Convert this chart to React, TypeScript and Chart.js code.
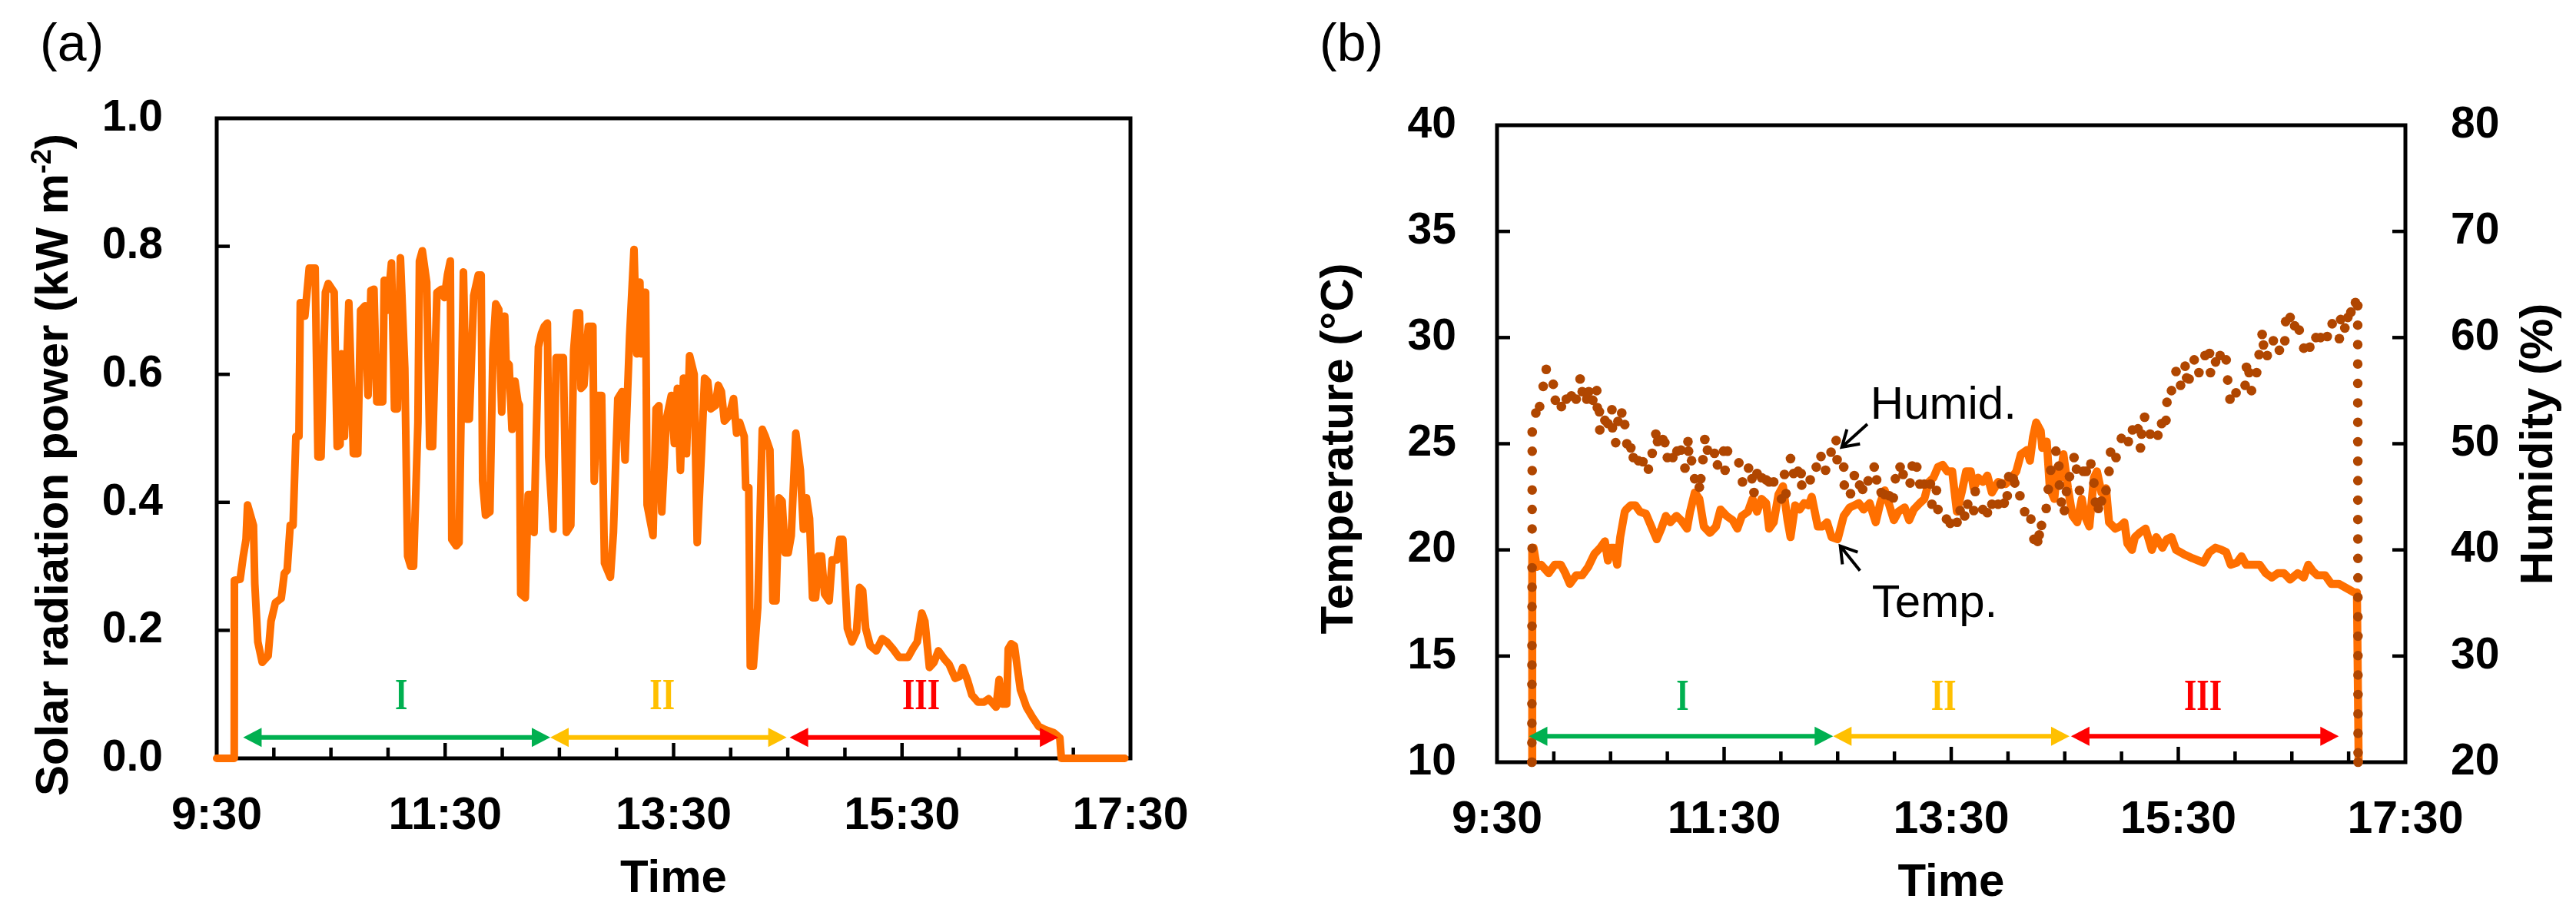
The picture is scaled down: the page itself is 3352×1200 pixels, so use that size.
import React, { useEffect, useRef } from 'react';
import { Chart, registerables } from 'chart.js';

Chart.register(...registerables);

const SANS = '"Liberation Sans", Arial, Helvetica, sans-serif';
const SERIF = '"Liberation Serif", "Times New Roman", Times, serif';

const ORANGE = '#FF6F00';
const BROWN = '#B04600';
const GREEN = '#00B050';
const YELLOW = '#FFC000';
const RED = '#FF0000';

// ---------- time axis (minutes after 9:30) ----------
const timeTickValues = [0, 120, 240, 360, 480];
const timeTickLabels = ['9:30', '11:30', '13:30', '15:30', '17:30'];

// ---------- panel (a): solar radiation power (kW m-2) ----------
const radTime = [
  0, 9.2, 9.3, 12.3, 13.9, 15.4, 16.2, 19.3, 20.0, 21.6,
  23.9, 27.0, 28.5, 30.8, 33.9, 35.5, 37.0, 38.6, 40.1, 41.6,
  43.2, 43.9, 45.5, 46.3, 48.6, 51.7, 53.2, 54.8, 57.1, 58.6,
  61.7, 63.3, 64.8, 65.6, 67.1, 69.4, 71.8, 74.1, 75.6, 77.9,
  79.5, 81.0, 82.6, 84.1, 87.2, 88.0, 89.5, 91.8, 93.4, 94.9,
  96.5, 98.8, 100.3, 101.9, 103.4, 105.7, 106.5, 108.0, 110.3, 111.9,
  113.4, 115.7, 118.1, 119.6, 121.2, 122.7, 123.5, 125.8, 127.3, 129.6,
  131.2, 132.7, 135.0, 137.4, 138.9, 139.7, 141.2, 143.5, 145.1, 146.6,
  148.2, 149.7, 151.3, 152.0, 153.6, 155.1, 156.7, 158.2, 159.0, 159.7,
  162.1, 163.6, 165.1, 166.7, 167.5, 169.0, 170.6, 172.1, 173.7, 174.4,
  176.7, 178.3, 182.1, 183.7, 186.0, 187.5, 189.1, 190.6, 191.4, 192.9,
  195.2, 197.6, 198.3, 199.9, 202.2, 203.7, 206.8, 208.4, 210.7, 213.0,
  214.5, 216.9, 219.2, 220.7, 222.3, 223.0, 223.8, 225.3, 226.1, 229.2,
  230.8, 232.3, 233.8, 236.2, 238.8, 240.4, 242.0, 243.6, 245.2, 246.8,
  248.4, 250.8, 252.4, 254.7, 256.3, 257.9, 259.5, 261.9, 263.5, 265.1,
  266.7, 269.1, 271.5, 273.1, 274.7, 277.1, 277.9, 279.5, 280.3, 281.9,
  284.2, 286.6, 288.2, 290.6, 292.2, 293.8, 295.4, 297.0, 298.6, 300.2,
  301.8, 304.2, 306.6, 308.2, 309.8, 311.4, 313.0, 314.6, 316.1, 317.7,
  319.3, 321.7, 323.3, 325.7, 327.3, 328.9, 331.3, 333.7, 336.1, 337.7,
  339.3, 340.9, 343.3, 346.5, 349.6, 352.0, 355.2, 358.4, 363.2, 365.6,
  368.0, 370.4, 372.0, 374.4, 376.8, 379.1, 382.3, 384.7, 387.9, 390.3,
  391.9, 394.3, 396.7, 399.9, 403.1, 405.5, 409.4, 411.0, 412.6, 415.0,
  415.8, 417.4, 419.0, 422.2, 425.4, 428.6, 431.8, 435.0, 439.8, 442.9,
  443.7, 477,
];
const radPower = [
  0, 0, 0.278, 0.28, 0.315, 0.342, 0.396, 0.364, 0.273, 0.182,
  0.15, 0.16, 0.214, 0.243, 0.25, 0.289, 0.294, 0.364, 0.364, 0.503,
  0.503, 0.712, 0.712, 0.691, 0.766, 0.766, 0.471, 0.471, 0.728, 0.742,
  0.728, 0.487, 0.49, 0.632, 0.503, 0.712, 0.476, 0.476, 0.70, 0.707,
  0.567, 0.731, 0.733, 0.557, 0.557, 0.747, 0.70, 0.774, 0.546, 0.546,
  0.782, 0.61, 0.316, 0.30, 0.30, 0.525, 0.777, 0.793, 0.744, 0.487,
  0.487, 0.728, 0.733, 0.72, 0.755, 0.777, 0.342, 0.332, 0.337, 0.76,
  0.53, 0.53, 0.723, 0.755, 0.755, 0.433, 0.38, 0.385, 0.637, 0.71,
  0.701, 0.541, 0.691, 0.62, 0.615, 0.514, 0.589, 0.557, 0.552, 0.257,
  0.251, 0.412, 0.412, 0.353, 0.46, 0.643, 0.664, 0.675, 0.68, 0.471,
  0.358, 0.626, 0.626, 0.353, 0.364, 0.637, 0.696, 0.696, 0.578, 0.583,
  0.675, 0.675, 0.433, 0.567, 0.567, 0.305, 0.283, 0.353, 0.562, 0.573,
  0.466, 0.659, 0.795, 0.632, 0.744, 0.632, 0.728, 0.728, 0.396, 0.348,
  0.546, 0.551, 0.385, 0.53, 0.567, 0.492, 0.578, 0.45, 0.594, 0.476,
  0.629, 0.60, 0.337, 0.482, 0.594, 0.589, 0.546, 0.551, 0.583, 0.573,
  0.527, 0.535, 0.562, 0.508, 0.525, 0.503, 0.423, 0.423, 0.144, 0.144,
  0.235, 0.514, 0.503, 0.482, 0.246, 0.246, 0.407, 0.402, 0.321, 0.321,
  0.348, 0.508, 0.45, 0.358, 0.407, 0.375, 0.251, 0.251, 0.316, 0.316,
  0.257, 0.246, 0.31, 0.31, 0.342, 0.342, 0.203, 0.182, 0.198, 0.267,
  0.262, 0.203, 0.176, 0.168, 0.187, 0.182, 0.171, 0.158, 0.158, 0.171,
  0.182, 0.227, 0.214, 0.142, 0.15, 0.168, 0.155, 0.147, 0.125, 0.128,
  0.142, 0.123, 0.099, 0.088, 0.088, 0.093, 0.08, 0.123, 0.085, 0.085,
  0.171, 0.179, 0.176, 0.107, 0.08, 0.064, 0.05, 0.045, 0.04, 0.032,
  0, 0,
];

// ---------- panel (b): temperature (°C) ----------
const tempTime = [
  18.4, 18.6, 19.3, 21.0, 23.3, 27.3, 30.5, 33.7, 36.1, 38.5,
  41.8, 45.0, 48.2, 51.4, 54.6, 57.0, 58.6, 60.2, 61.9, 63.5,
  65.1, 67.5, 68.3, 70.7, 73.1, 75.5, 78.7, 82.0, 84.4, 86.8,
  89.2, 91.6, 94.8, 97.2, 100.4, 102.0, 104.5, 106.9, 109.3, 112.5,
  115.7, 118.1, 121.3, 124.5, 127.0, 129.4, 132.6, 135.0, 137.4, 139.8,
  142.2, 143.8, 146.2, 148.7, 151.1, 153.5, 155.1, 157.5, 159.9, 162.3,
  164.7, 166.3, 169.5, 172.0, 174.4, 176.8, 180.0, 183.2, 186.4, 188.8,
  191.2, 193.7, 196.9, 200.1, 202.5, 204.9, 207.3, 209.7, 212.1, 215.4,
  217.8, 220.2, 223.4, 225.8, 228.2, 230.6, 233.0, 235.5, 237.9, 240.5,
  243.0, 245.5, 247.9, 250.3, 251.9, 254.3, 256.7, 259.1, 261.5, 264.8,
  268.8, 272.0, 274.4, 276.8, 280.0, 281.6, 283.2, 284.9, 287.3, 288.1,
  290.5, 292.1, 294.5, 296.1, 297.7, 299.3, 301.7, 304.1, 306.6, 309.0,
  310.6, 313.0, 315.4, 317.0, 319.4, 321.8, 323.4, 326.7, 329.1, 331.5,
  333.1, 335.5, 337.1, 339.5, 342.7, 346.0, 348.4, 351.6, 354.0, 356.4,
  358.8, 362.8, 367.6, 373.3, 376.5, 379.7, 382.9, 385.3, 387.7, 391.0,
  393.4, 395.8, 399.0, 403.0, 406.2, 409.4, 412.6, 415.9, 419.1, 423.1,
  426.3, 428.7, 431.1, 433.5, 437.6, 440.8, 444.8, 448.8, 452.8, 454.4,
  455.3,
];
const tempValue = [
  10, 20.1, 20.1, 19.2, 19.3, 18.9, 19.3, 19.3, 18.9, 18.4,
  18.8, 18.8, 19.2, 19.8, 20.1, 20.4, 19.5, 20.1, 20.1, 19.3,
  20.6, 21.8, 21.9, 22.1, 22.1, 21.8, 21.7, 21.0, 20.5, 21.0,
  21.6, 21.3, 21.6, 21.4, 21.0, 21.8, 22.7, 22.4, 21.1, 20.8,
  21.1, 21.9, 21.6, 21.4, 21.0, 21.6, 21.8, 22.4, 21.8, 22.4,
  22.2, 21.0, 21.3, 22.6, 23.0, 21.4, 20.6, 22.1, 21.9, 22.2,
  22.1, 22.5, 21.1, 21.1, 21.3, 20.6, 20.5, 21.6, 22.0, 22.1,
  22.2, 21.9, 22.2, 21.3, 22.2, 22.8, 22.1, 21.4, 21.8, 22.0,
  21.4, 21.9, 22.2, 22.4, 23.2, 23.4, 23.9, 24.0, 23.7, 23.7,
  21.8, 22.7, 23.7, 23.7, 22.9, 23.4, 23.2, 23.5, 22.7, 23.2,
  23.1, 23.4, 23.7, 24.5, 24.7, 24.2, 25.3, 26.0, 25.6, 24.8,
  25.1, 22.9, 22.4, 23.9, 23.4, 24.5, 22.9, 21.6, 21.3, 22.4,
  21.6, 21.1, 23.4, 23.7, 22.7, 22.9, 21.3, 21.0, 21.1, 21.3,
  20.3, 20.0, 20.6, 20.8, 21.0, 20.0, 20.6, 20.1, 20.5, 20.6,
  20.0, 19.8, 19.6, 19.4, 19.9, 20.1, 20.0, 19.9, 19.3, 19.4,
  19.7, 19.3, 19.3, 19.3, 18.9, 18.7, 18.9, 18.9, 18.6, 18.9,
  18.7, 19.3, 19.0, 18.8, 18.8, 18.4, 18.4, 18.2, 18.0, 18.0,
  10,
];

// ---------- panel (b): humidity (%) ----------
const humidTime = [
  18.4, 18.6, 20.5, 22.5, 24.4, 26.0, 29.7, 30.8, 34.0, 36.6,
  39.3, 41.8, 43.9, 45.0, 47.4, 48.5, 50.6, 52.7, 53.0, 54.1,
  54.3, 57.0, 58.6, 60.7, 61.0, 62.7, 63.9, 65.9, 67.5, 68.6,
  70.7, 72.0, 74.7, 77.1, 80.0, 82.0, 83.9, 84.8, 87.6, 88.7,
  90.0, 92.9, 95.1, 97.2, 99.3, 100.9, 101.2, 102.8, 104.4, 106.9,
  107.7, 108.8, 109.8, 111.2, 114.9, 116.5, 119.7, 120.5, 121.8, 127.8,
  129.7, 132.9, 134.7, 135.8, 137.4, 139.8, 142.2, 143.8, 146.2, 150.3,
  151.9, 152.7, 155.1, 156.7, 159.1, 160.7, 161.0, 165.5, 168.7, 171.2,
  173.6, 176.5, 179.2, 179.7, 183.2, 183.5, 186.8, 188.8, 191.6, 193.2,
  196.1, 199.3, 200.6, 203.0, 204.9, 207.3, 209.4, 210.5, 213.0, 214.6,
  218.3, 219.4, 221.8, 223.4, 225.8, 229.0, 229.8, 232.2, 233.0, 237.5,
  239.5, 243.1, 244.7, 247.1, 248.7, 251.9, 252.7, 256.7, 259.1, 261.5,
  264.8, 266.4, 268.0, 269.6, 270.4, 272.8, 273.6, 276.3, 278.8, 282.1,
  283.7, 285.7, 286.5, 287.7, 290.2, 291.3, 292.6, 295.3, 296.9, 297.2,
  298.2, 299.8, 300.9, 302.5, 304.9, 306.2, 307.8, 309.8, 311.4, 313.8,
  315.4, 316.2, 317.8, 319.4, 321.8, 323.4, 324.2, 327.1, 329.9, 333.6,
  335.8, 338.7, 340.0, 340.6, 342.2, 345.1, 349.2, 351.2, 353.5, 354.0,
  356.4, 358.8, 361.2, 363.6, 364.4, 365.7, 368.4, 370.9, 374.1, 376.5,
  377.0, 379.7, 382.1, 385.3, 386.1, 387.3, 390.5, 395.3, 396.0, 397.4,
  398.7, 401.4, 402.7, 404.3, 405.0, 407.0, 410.2, 413.4, 416.3, 416.7,
  419.1, 421.5, 423.9, 426.3, 429.5, 432.7, 435.2, 438.7, 441.3, 445.1,
  445.8, 448.0, 449.6, 451.2, 453.6, 454.8, 455.0,
];
const humidValue = [
  20, 51.1, 52.9, 53.5, 55.4, 57.0, 55.6, 54.1, 53.5, 54.2,
  54.5, 54.2, 56.1, 54.9, 54.2, 54.9, 54.1, 55.0, 53.4, 53.0,
  51.3, 52.2, 51.9, 53.2, 51.5, 50.1, 52.1, 52.9, 51.8, 50.0,
  49.6, 48.7, 48.4, 48.3, 47.6, 49.1, 50.9, 50.2, 50.4, 50.1,
  48.7, 48.7, 49.3, 49.4, 47.7, 50.2, 49.3, 48.4, 46.7, 45.9,
  46.7, 48.5, 50.4, 49.4, 49.1, 48.0, 49.3, 47.5, 49.3, 48.2,
  46.4, 47.7, 46.7, 45.4, 47.2, 46.8, 46.6, 46.4, 46.4, 44.8,
  47.1, 45.3, 48.6, 47.2, 47.4, 47.2, 46.1, 46.6, 47.8, 48.8,
  47.5, 49.2, 50.3, 48.5, 47.8, 46.1, 45.3, 47.0, 46.1, 45.7,
  46.5, 47.8, 46.6, 45.4, 45.2, 45.1, 44.9, 46.7, 47.8, 47.1,
  46.3, 47.9, 47.8, 46.2, 46.2, 46.2, 44.3, 45.6, 43.8, 42.9,
  42.5, 42.6, 43.7, 43.2, 44.3, 43.7, 45.5, 43.8, 43.5, 44.3,
  44.3, 46.2, 44.4, 45.1, 46.9, 46.7, 46.3, 45.1, 43.6, 42.9,
  41.0, 40.8, 41.4, 42.3, 43.9, 45.7, 47.5, 49.3, 47.9, 46.1,
  44.5, 43.7, 45.5, 46.9, 48.7, 47.6, 45.6, 47.4, 47.4, 48.1,
  46.3, 44.5, 43.9, 44.6, 45.6, 47.4, 49.2, 48.7, 50.5, 50.2,
  51.3, 51.4, 49.6, 50.9, 52.5, 50.9, 50.8, 51.9, 52.2, 53.9,
  55.0, 56.8, 55.5, 57.3, 56.2, 56.1, 57.9, 56.7, 58.3, 58.5,
  56.7, 57.7, 58.3, 57.9, 56.0, 54.2, 54.8, 55.5, 57.2, 56.7,
  55.0, 56.7, 58.4, 60.3, 59.3, 58.3, 59.7, 58.8, 59.7, 61.5,
  61.9, 61.1, 60.7, 59.0, 59.1, 60.0, 60.0, 60.1, 61.3, 59.9,
  61.7, 60.9, 61.9, 62.4, 63.3, 63.0, 20,
];

// ---------- periods I, II, III ----------
const periodNames = ['I', 'II', 'III'];
const periodColors = [GREEN, YELLOW, RED];
const radPeriodStart = [13.9, 175.2, 301.0];
const radPeriodEnd = [175.2, 299.4, 442.1];
const climPeriodStart = [16.85, 177.6, 303.3];
const climPeriodEnd = [177.6, 302.5, 444.8];

type Part = { text: string; size: number; bold?: boolean; rise?: number };

function drawParts(ctx: CanvasRenderingContext2D, parts: Part[], x: number, y: number, rot: number) {
  ctx.save();
  ctx.translate(x, y);
  ctx.rotate(rot);
  ctx.textAlign = 'left';
  ctx.textBaseline = 'alphabetic';
  ctx.fillStyle = '#000';
  const widths = parts.map((p) => {
    ctx.font = `${p.bold ? 'bold ' : ''}${p.size}px ${SANS}`;
    return ctx.measureText(p.text).width;
  });
  const total = widths.reduce((a, b) => a + b, 0);
  let cx = -total / 2;
  parts.forEach((p, i) => {
    ctx.font = `${p.bold ? 'bold ' : ''}${p.size}px ${SANS}`;
    ctx.fillText(p.text, cx, -(p.rise || 0));
    cx += widths[i];
  });
  ctx.restore();
}

const framePlugin = {
  id: 'frame',
  beforeDatasetsDraw(chart: any) {
    const { ctx, chartArea: a, scales } = chart;
    ctx.save();
    ctx.strokeStyle = '#000';
    ctx.lineCap = 'butt';
    ctx.lineWidth = 4.5;
    const xs = scales.x;
    xs.ticks.forEach((t: any) => {
      if (t.value <= xs.min || t.value >= xs.max) return;
      const px = xs.getPixelForValue(t.value);
      const len = t.value % 120 === 0 ? 20 : 14;
      ctx.beginPath();
      ctx.moveTo(px, a.bottom);
      ctx.lineTo(px, a.bottom - len);
      ctx.stroke();
    });
    ['y', 'y1'].forEach((id) => {
      const s = scales[id];
      if (!s) return;
      const left = s.position === 'left';
      s.ticks.forEach((t: any) => {
        if (t.value <= s.min || t.value >= s.max) return;
        const py = s.getPixelForValue(t.value);
        ctx.beginPath();
        ctx.moveTo(left ? a.left : a.right, py);
        ctx.lineTo(left ? a.left + 17 : a.right - 17, py);
        ctx.stroke();
      });
    });
    ctx.lineWidth = 5;
    ctx.strokeRect(a.left, a.top, a.right - a.left, a.bottom - a.top);
    ctx.restore();
  },
};

type NotesCfg = {
  letter: string;
  letterX: number;
  yTitles: { parts: Part[]; x: number; y: number; rot: number }[];
  periodStart: number[];
  periodEnd: number[];
  periodLevel: number;
  labelLevel: number;
  labelAt: number[];
  callouts: { text: string; tx: number; ty: number; from: number[]; to: number[] }[];
};

function makeNotes(cfg: NotesCfg) {
  return {
    id: 'notes',
    afterDatasetsDraw(chart: any) {
      const { ctx, chartArea: a, scales } = chart;
      const xs = scales.x;
      const ys = scales.y;
      ctx.save();
      ctx.fillStyle = '#000';
      ctx.textAlign = 'left';
      ctx.textBaseline = 'alphabetic';
      ctx.font = `68px ${SANS}`;
      ctx.fillText(cfg.letter, cfg.letterX, 79);

      ctx.font = `bold 60px ${SANS}`;
      ctx.textAlign = 'center';
      ctx.fillText('Time', (a.left + a.right) / 2, a.bottom + 174);

      cfg.yTitles.forEach((t) => drawParts(ctx, t.parts, t.x, t.y, t.rot));

      // period arrows
      const py = ys.getPixelForValue(cfg.periodLevel);
      const ly = ys.getPixelForValue(cfg.labelLevel);
      const head = 24;
      const half = 12.5;
      periodNames.forEach((name, i) => {
        const x0 = xs.getPixelForValue(cfg.periodStart[i]);
        const x1 = xs.getPixelForValue(cfg.periodEnd[i]);
        ctx.strokeStyle = periodColors[i];
        ctx.fillStyle = periodColors[i];
        ctx.lineWidth = 6;
        ctx.beginPath();
        ctx.moveTo(x0 + head - 2, py);
        ctx.lineTo(x1 - head + 2, py);
        ctx.stroke();
        ctx.beginPath();
        ctx.moveTo(x0, py);
        ctx.lineTo(x0 + head, py - half);
        ctx.lineTo(x0 + head, py + half);
        ctx.closePath();
        ctx.fill();
        ctx.beginPath();
        ctx.moveTo(x1, py);
        ctx.lineTo(x1 - head, py - half);
        ctx.lineTo(x1 - head, py + half);
        ctx.closePath();
        ctx.fill();
        ctx.save();
        ctx.translate(xs.getPixelForValue(cfg.labelAt[i]), ly);
        ctx.scale(0.75, 1);
        ctx.font = `bold 56px ${SERIF}`;
        ctx.textAlign = 'center';
        ctx.textBaseline = 'middle';
        ctx.fillText(name, 0, 0);
        ctx.restore();
      });

      // callouts
      cfg.callouts.forEach((c) => {
        ctx.fillStyle = '#000';
        ctx.strokeStyle = '#000';
        ctx.font = `60px ${SANS}`;
        ctx.textAlign = 'left';
        ctx.textBaseline = 'alphabetic';
        ctx.fillText(c.text, xs.getPixelForValue(c.tx), ys.getPixelForValue(c.ty));
        const fx = xs.getPixelForValue(c.from[0]);
        const fy = ys.getPixelForValue(c.from[1]);
        const tx = xs.getPixelForValue(c.to[0]);
        const ty = ys.getPixelForValue(c.to[1]);
        const ang = Math.atan2(fy - ty, fx - tx);
        ctx.lineWidth = 4;
        ctx.lineCap = 'butt';
        ctx.beginPath();
        ctx.moveTo(fx, fy);
        ctx.lineTo(tx, ty);
        const bl = 24;
        const da = 0.56;
        ctx.moveTo(tx + bl * Math.cos(ang + da), ty + bl * Math.sin(ang + da));
        ctx.lineTo(tx, ty);
        ctx.lineTo(tx + bl * Math.cos(ang - da), ty + bl * Math.sin(ang - da));
        ctx.stroke();
      });
      ctx.restore();
    },
  };
}

function timeLabel(v: number) {
  const i = timeTickValues.indexOf(v);
  return i >= 0 ? timeTickLabels[i] : '';
}

const tickFont = (size: number) => ({ family: SANS, size, weight: 'bold' as const });

function xScale(height: number) {
  return {
    type: 'linear' as const,
    min: 0,
    max: 480,
    grid: { display: false, drawTicks: false },
    border: { display: false },
    ticks: {
      stepSize: 30,
      autoSkip: false,
      maxRotation: 0,
      minRotation: 0,
      padding: 40,
      color: '#000',
      font: tickFont(59),
      callback: (v: any) => timeLabel(Number(v)),
    },
    afterFit: (s: any) => {
      s.height = height;
    },
  };
}

function pts(xs: number[], ys: number[]) {
  return xs.map((x, i) => ({ x, y: ys[i] }));
}

function configA(): any {
  return {
    type: 'line',
    data: {
      datasets: [
        {
          label: 'Solar radiation power',
          data: pts(radTime, radPower),
          borderColor: ORANGE,
          borderWidth: 10,
          borderJoinStyle: 'round',
          borderCapStyle: 'round',
          pointRadius: 0,
          tension: 0,
          clip: false,
        },
      ],
    },
    options: {
      animation: false,
      responsive: false,
      devicePixelRatio: 1,
      events: [],
      layout: { padding: { left: 0, top: 154, right: 205, bottom: 0 } },
      plugins: { legend: { display: false }, tooltip: { enabled: false } },
      scales: {
        x: xScale(213),
        y: {
          type: 'linear',
          position: 'left',
          min: 0,
          max: 1,
          grid: { display: false, drawTicks: false },
          border: { display: false },
          ticks: {
            stepSize: 0.2,
            padding: 70,
            color: '#000',
            font: tickFont(57),
            callback: (v: any) => Number(v).toFixed(1),
          },
          afterFit: (s: any) => {
            s.width = 282;
          },
        },
      },
    },
    plugins: [
      framePlugin,
      makeNotes({
        letter: '(a)',
        letterX: 52,
        yTitles: [
          {
            parts: [
              { text: 'Solar radiation power (kW m', size: 60, bold: true },
              { text: '-2', size: 36, bold: true, rise: 22 },
              { text: ')', size: 60, bold: true },
            ],
            x: 88,
            y: 605,
            rot: -Math.PI / 2,
          },
        ],
        periodStart: radPeriodStart,
        periodEnd: radPeriodEnd,
        periodLevel: 0.0327,
        labelLevel: 0.0948,
        labelAt: [97, 234, 370],
        callouts: [],
      }),
    ],
  };
}

function configB(): any {
  const n = humidTime.length;
  return {
    type: 'line',
    data: {
      datasets: [
        {
          label: 'Humid.',
          yAxisID: 'y1',
          data: pts(humidTime, humidValue),
          borderColor: BROWN,
          borderWidth: 12.5,
          borderDash: [0.001, 25.3],
          borderCapStyle: 'round',
          pointRadius: 6.3,
          pointBorderWidth: 0,
          pointBackgroundColor: BROWN,
          tension: 0,
          clip: false,
          segment: {
            borderColor: (c: any) =>
              c.p0DataIndex === 0 || c.p1DataIndex === n - 1 ? BROWN : 'rgba(0,0,0,0)',
          },
        },
        {
          label: 'Temp.',
          yAxisID: 'y',
          data: pts(tempTime, tempValue),
          borderColor: ORANGE,
          borderWidth: 10.5,
          borderJoinStyle: 'round',
          borderCapStyle: 'round',
          pointRadius: 0,
          tension: 0,
          clip: false,
        },
      ],
    },
    options: {
      animation: false,
      responsive: false,
      devicePixelRatio: 1,
      events: [],
      layout: { padding: { left: 0, top: 163, right: 0, bottom: 0 } },
      plugins: { legend: { display: false }, tooltip: { enabled: false } },
      scales: {
        x: xScale(208),
        y: {
          type: 'linear',
          position: 'left',
          min: 10,
          max: 40,
          grid: { display: false, drawTicks: false },
          border: { display: false },
          ticks: { stepSize: 5, padding: 53, color: '#000', font: tickFont(57) },
          afterFit: (s: any) => {
            s.width = 272;
          },
        },
        y1: {
          type: 'linear',
          position: 'right',
          min: 20,
          max: 80,
          grid: { display: false, drawTicks: false },
          border: { display: false },
          ticks: { stepSize: 10, padding: 59, color: '#000', font: tickFont(57) },
          afterFit: (s: any) => {
            s.width = 222;
          },
        },
      },
    },
    plugins: [
      framePlugin,
      makeNotes({
        letter: '(b)',
        letterX: 41,
        yTitles: [
          {
            parts: [{ text: 'Temperature (°C)', size: 60, bold: true }],
            x: 84,
            y: 584,
            rot: -Math.PI / 2,
          },
          {
            parts: [{ text: 'Humidity (%)', size: 60, bold: true }],
            x: 1645,
            y: 578,
            rot: -Math.PI / 2,
          },
        ],
        periodStart: climPeriodStart,
        periodEnd: climPeriodEnd,
        periodLevel: 11.22,
        labelLevel: 13.0,
        labelAt: [98, 236, 373],
        callouts: [
          { text: 'Humid.', tx: 197.3, ty: 26.19, from: [195.7, 25.92], to: [182.2, 24.84] },
          { text: 'Temp.', tx: 198.1, ty: 16.84, from: [191.8, 19.02], to: [181.4, 20.18] },
        ],
      }),
    ],
  };
}

export default function App() {
  const refA = useRef<HTMLCanvasElement>(null);
  const refB = useRef<HTMLCanvasElement>(null);
  useEffect(() => {
    Chart.defaults.font.family = SANS;
    const a = new Chart(refA.current as HTMLCanvasElement, configA());
    const b = new Chart(refB.current as HTMLCanvasElement, configB());
    return () => {
      a.destroy();
      b.destroy();
    };
  }, []);
  return (
    <div
      style={{
        position: 'absolute',
        left: 0,
        top: 0,
        width: 3352,
        height: 1200,
        background: '#fff',
        overflow: 'hidden',
      }}
    >
      <canvas
        ref={refA}
        width={1676}
        height={1200}
        style={{ position: 'absolute', left: 0, top: 0, width: 1676, height: 1200 }}
      />
      <canvas
        ref={refB}
        width={1676}
        height={1200}
        style={{ position: 'absolute', left: 1676, top: 0, width: 1676, height: 1200 }}
      />
    </div>
  );
}
